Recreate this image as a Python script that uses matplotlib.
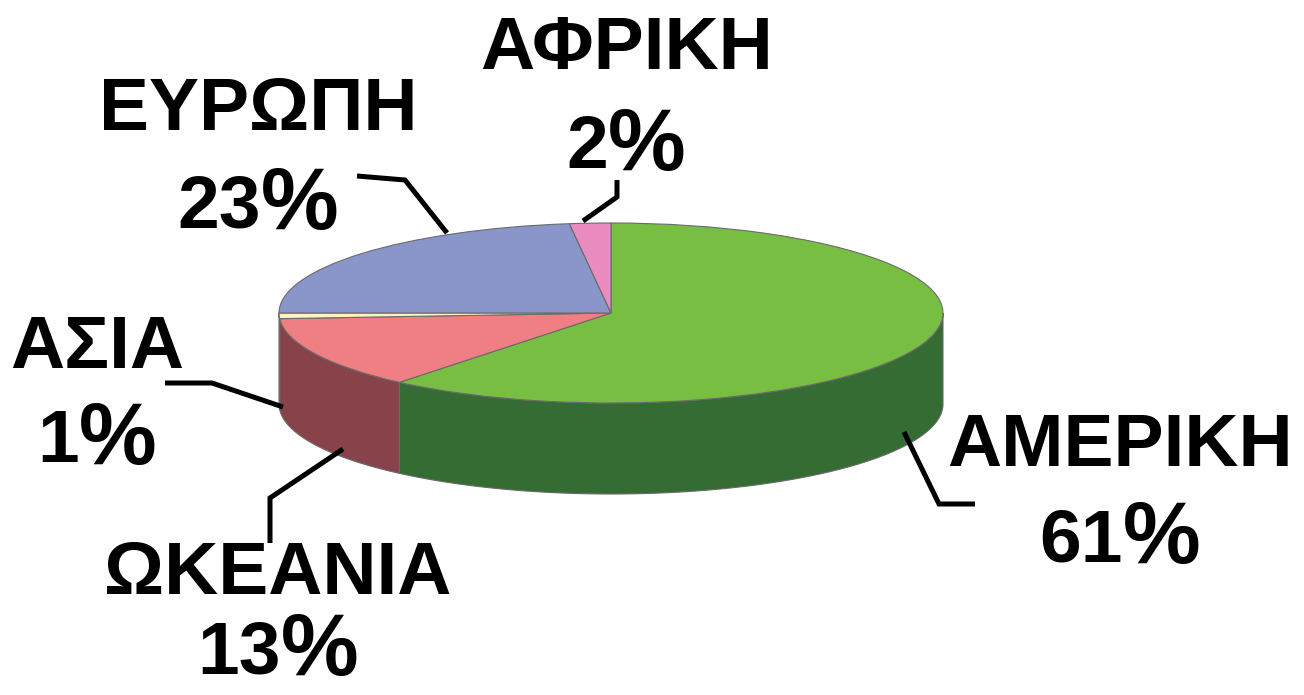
import matplotlib
matplotlib.use('Agg')
import matplotlib.pyplot as plt
import numpy as np

# ---- data ----
regions = ['ΑΜΕΡΙΚΗ', 'ΩΚΕΑΝΙΑ', 'ΑΣΙΑ', 'ΕΥΡΩΠΗ', 'ΑΦΡΙΚΗ']
shares = [61, 13, 1, 23, 2]

# ---- styles ----
top_colors = ['#78BE43', '#F07F84', '#FFF3C4', '#8A95C9', '#EA8CC0']
side_colors = ['#346C34', '#884249', '#D8CC9A', '#6B76A8', '#B86A98']
edge_col = '#6a6a6a'

# ---- layout (pixels) ----
W, H = 1304, 695
CX, CY = 611, 313        # centre of top ellipse
RX, RY = 332, 90         # ellipse radii
DEPTH = 91               # wall height

# label anchor: centre x, name baseline, percent baseline
label_pos = {
    'ΑΦΡΙΚΗ': (626, 69, 168),
    'ΕΥΡΩΠΗ': (258, 130, 227),
    'ΑΣΙΑ': (97, 368, 462),
    'ΩΚΕΑΝΙΑ': (278, 594, 673),
    'ΑΜΕΡΙΚΗ': (1120, 466, 561),
}
leaders = {
    'ΑΦΡΙΚΗ': [(617, 180), (617, 197), (583, 221)],
    'ΕΥΡΩΠΗ': [(357, 176), (405, 180), (447, 233)],
    'ΑΣΙΑ': [(165, 383), (212, 383), (283, 407)],
    'ΩΚΕΑΝΙΑ': [(270, 543), (270, 498), (343, 449)],
    'ΑΜΕΡΙΚΗ': [(904, 432), (939, 504), (975, 504)],
}

fig = plt.figure(figsize=(W / 100, H / 100), dpi=100)
fig.patch.set_facecolor('white')

# pie axes: unit circle mapped to the ellipse
axp = fig.add_axes([0, 0, 1, 1])
wedges, _ = axp.pie(shares, startangle=90, counterclock=False,
                    colors=top_colors,
                    wedgeprops=dict(edgecolor=edge_col, linewidth=0.8, zorder=3))
axp.set_aspect('auto')
axp.set_xlim(-CX / RX, (W - CX) / RX)
axp.set_ylim(-(H - CY) / RY, CY / RY)
axp.axis('off')

D = DEPTH / RY
for w, sc in zip(wedges, side_colors):
    t1, t2 = w.theta1, w.theta2
    for k in (-1, 0, 1):
        lo = max(t1, -180 + 360 * k)
        hi = min(t2, 0 + 360 * k)
        if hi > lo:
            ts = np.radians(np.linspace(lo, hi, 200))
            xs = np.concatenate([np.cos(ts), np.cos(ts[::-1])])
            ys = np.concatenate([np.sin(ts), np.sin(ts[::-1]) - D])
            axp.fill(xs, ys, facecolor=sc, edgecolor=edge_col,
                     linewidth=0.8, zorder=1)

# overlay axes in pixel coordinates for labels
axt = fig.add_axes([0, 0, 1, 1])
axt.set_xlim(0, W)
axt.set_ylim(H, 0)
axt.axis('off')

fam = ['Liberation Sans', 'DejaVu Sans']
name_font = dict(family=fam, fontweight='bold', fontsize=54, color='black',
                 ha='center', va='baseline')
num_font = dict(family=fam, fontweight='bold', fontsize=54, color='black',
                ha='left', va='baseline')
pct_font = dict(family=fam, fontweight='bold', fontsize=63, color='black',
                ha='left', va='baseline')

renderer = fig.canvas.get_renderer()
for name, val in zip(regions, shares):
    cx, yb1, yb2 = label_pos[name]
    axt.text(cx, yb1, name, **name_font)
    tn = axt.text(0, yb2, f'{val}', **num_font)
    tp = axt.text(0, yb2 + 2, '%', **pct_font)
    wn = tn.get_window_extent(renderer).width
    wp = tp.get_window_extent(renderer).width
    x0 = cx - (wn + wp) / 2
    tn.set_x(x0)
    tp.set_x(x0 + wn)
    pts = np.array(leaders[name])
    axt.plot(pts[:, 0], pts[:, 1], color='black', linewidth=3.6,
             solid_capstyle='butt', solid_joinstyle='miter')

fig.savefig('out.png', dpi=100)
